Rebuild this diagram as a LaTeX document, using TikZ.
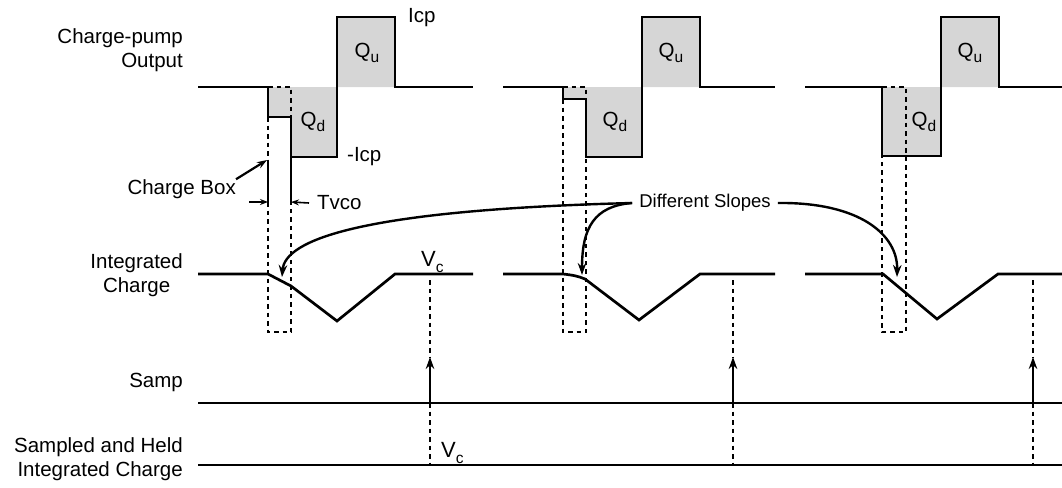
\documentclass[tikz,border=0pt]{standalone}
\usepackage{fontspec}
\setmainfont{Liberation Sans}
\usetikzlibrary{arrows.meta}
\newcommand{\lsub}[1]{\raisebox{-0.45ex}{\fontsize{15.5}{15.5}\selectfont #1}}
\begin{document}
\begin{tikzpicture}[x=1pt,y=-1pt,
  wave/.style={line width=2.7pt, line join=miter},
  dsh/.style={line width=1.8pt, dash pattern=on 4.5pt off 4pt},
  fillq/.style={fill=black!16},
  lbl/.style={font=\fontsize{20.5}{24}\selectfont, inner sep=0pt},
  arr/.style={line width=2.4pt, -{Stealth[length=12pt,width=8.5pt]}},
  dimarr/.style={line width=1.6pt, -{Stealth[length=8pt,width=6pt]}},
  extl/.style={line width=1.8pt}]
\useasboundingbox (0,0) rectangle (1062,487);

% ---------- gray charge areas ----------
\fill[fillq] (268,87) -- (268,117) -- (291,117) -- (291,157) -- (337,157) -- (337,17) -- (395,17) -- (395,87) -- cycle;
\fill[fillq] (563,87) -- (563,99) -- (586,99) -- (586,157) -- (642,157) -- (642,17) -- (700,17) -- (700,87) -- cycle;
\fill[fillq] (882,87) -- (882,156) -- (941,156) -- (941,17) -- (999,17) -- (999,87) -- cycle;

% ---------- charge boxes (dashed) ----------
\draw[dsh] (268,87) -- (291,87) -- (291,117);
\draw[dsh] (268,117) -- (268,332) -- (291,332) -- (291,157);
\draw[dsh] (563,87) -- (586,87) -- (586,99);
\draw[dsh] (563,99) -- (563,332) -- (586,332) -- (586,157);
\draw[dsh] (882,87) -- (906,87) -- (906,332) -- (882,332) -- (882,156);

% extension lines for Tvco dimension
\draw[extl] (268,160) -- (268,203);
\draw[extl] (291,157) -- (291,203);

% ---------- charge-pump output waveforms ----------
\draw[wave] (198,87) -- (268,87) -- (268,117) -- (291,117) -- (291,157) -- (337,157) -- (337,17) -- (395,17) -- (395,87) -- (473,87);
\draw[wave] (503,87) -- (563,87) -- (563,99) -- (586,99) -- (586,157) -- (642,157) -- (642,17) -- (700,17) -- (700,87) -- (775,87);
\draw[wave] (805,87) -- (882,87) -- (882,156) -- (941,156) -- (941,17) -- (999,17) -- (999,87) -- (1062,87);

% ---------- integrated charge ----------
\draw[wave] (198,274) -- (268,274) -- (291,286) -- (337,321) -- (395,274) -- (473,274);
\draw[wave] (503,274) -- (563,274) .. controls (572,275) and (578,276) .. (585,279) -- (639,320) -- (700,274) -- (775,274);
\draw[wave] (805,274) -- (883,274) -- (937,319) -- (998,274) -- (1062,274);

% ---------- Samp and held lines ----------
\draw[wave] (198,403) -- (1062,403);
\draw[wave] (198,465) -- (1062,465);

% sampling instants
\foreach \sx/\nm in {430/a,733/b,1033/c}{
  \coordinate (st\nm) at (\sx,357);
  \coordinate (sb\nm) at (\sx,403);
  \draw[dsh] (\sx,280) -- (st\nm);
  \draw[dsh] (sb\nm) -- (\sx,465);
  \draw[arr] (sb\nm) -- (st\nm);
}

% ---------- labels ----------
\node[lbl, anchor=east, align=right] (lcp) at (183,50) {Charge-pump\\Output};
\node[lbl, anchor=east, align=center] (lic) at (183,275) {Integrated\\Charge};
\node[lbl, anchor=east] (lsp) at (183,382) {Samp};
\node[lbl, anchor=east, align=right] (lsh) at (183,459) {Sampled and Held\\Integrated Charge};

\node[lbl] (qu1) at (367,53) {Q\lsub{u}};
\node[lbl] (qd1) at (313,122) {Q\lsub{d}};
\node[lbl] (qu2) at (671,53) {Q\lsub{u}};
\node[lbl] (qd2) at (615,122) {Q\lsub{d}};
\node[lbl] (qu3) at (970,53) {Q\lsub{u}};
\node[lbl] (qd3) at (924,122) {Q\lsub{d}};

\node[lbl, anchor=west] (icp) at (408,18) {Icp};
\node[lbl, anchor=west] (micp) at (347,157) {-Icp};

\node[lbl, anchor=west, font=\fontsize{22}{24}\selectfont] (vc1) at (421,262) {V\lsub{c}};
\node[lbl, anchor=west, font=\fontsize{22}{24}\selectfont] (vc2) at (441,453) {V\lsub{c}};

% Charge Box
\node[lbl, anchor=east] (cb) at (236,189) {Charge Box};
\coordinate (cbt) at (267,160);
\draw[line width=2.2pt, -{Stealth[length=10pt,width=7pt]}] (cb.north east) -- (cbt);

% Tvco dimension
\node[lbl, anchor=west] (tv) at (317,203) {Tvco};
\coordinate (dl) at (268,202);
\coordinate (dr) at (291,202);
\draw[dimarr] (249,202) -- (dl);
\draw[dimarr] (tv.west) ++(-8,0) -- (dr);

% Different Slopes
\node[font=\fontsize{18.5}{22}\selectfont, inner ysep=0pt, inner xsep=7pt] (ds) at (705,203) {Different Slopes};
\coordinate (t1) at (282,277);
\coordinate (t2) at (582,275);
\coordinate (t3) at (897,277);
\draw[arr] (ds.west) .. controls (360,210) and (285,240) .. (t1);
\draw[arr] (ds.west) .. controls (594,206) and (582,228) .. (t2);
\draw[arr] (ds.east) .. controls (860,202) and (898,235) .. (t3);
\end{tikzpicture}
\end{document}
